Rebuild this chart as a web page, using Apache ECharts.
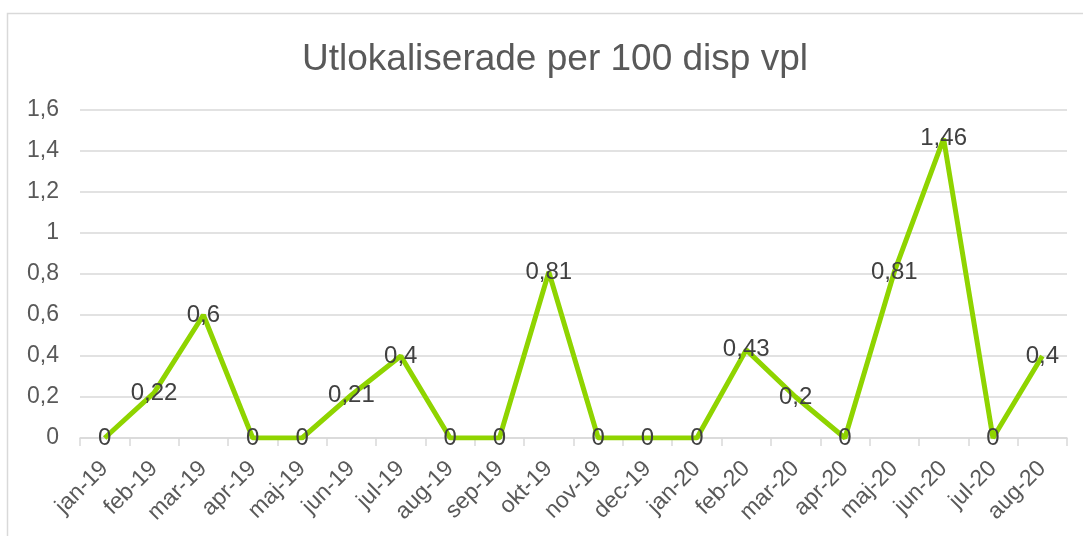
<!DOCTYPE html>
<html lang="sv">
<head>
    <meta charset="UTF-8">
    <title>Utlokaliserade per 100 disp vpl</title>
    <style>
        html, body { margin: 0; padding: 0; background: #fff; }
    </style>
</head>
<body>
<div id="container" style="width: 1083px;height:536px;"></div>

<script src="https://cdn.jsdelivr.net/npm/echarts@6/dist/echarts.min.js"></script>
<script type="text/javascript">

// kategorier (månader)
var months = ['jan-19', 'feb-19', 'mar-19', 'apr-19', 'maj-19', 'jun-19', 'jul-19', 'aug-19', 'sep-19', 'okt-19',
              'nov-19', 'dec-19', 'jan-20', 'feb-20', 'mar-20', 'apr-20', 'maj-20', 'jun-20', 'jul-20', 'aug-20'];
// värden
var values = [0, 0.22, 0.6, 0, 0, 0.21, 0.4, 0, 0, 0.81,
              0, 0, 0, 0.43, 0.2, 0, 0.81, 1.46, 0, 0.4];

function comma(v) {
    return String(v).replace('.', ',');
}

var dom = document.getElementById("container");
var myChart = echarts.init(dom);
var option = {
    animation: false,
    textStyle: { fontFamily: 'Liberation Sans, Arial, sans-serif' },
    title: {
        text: 'Utlokaliserade per 100 disp vpl',
        left: 297,
        top: 36,
        textStyle: { fontSize: 37, fontWeight: 'normal', color: '#595959' }
    },
    graphic: [{
        type: 'rect',
        shape: { x: 7.5, y: 13.5, width: 1080, height: 540 },
        style: { fill: 'none', stroke: '#d9d9d9', lineWidth: 1.5 },
        silent: true
    }],
    grid: {
        left: 80,
        right: 16,
        top: 110,
        bottom: 98
    },
    xAxis: {
        type: 'category',
        data: months,
        boundaryGap: true,
        axisLine: { lineStyle: { color: '#d9d9d9', width: 1.5 } },
        axisTick: { show: true, length: 8, lineStyle: { color: '#d9d9d9', width: 1.5 } },
        axisLabel: {
            rotate: 45,
            interval: 0,
            fontSize: 23,
            color: '#595959',
            margin: 27
        }
    },
    yAxis: {
        type: 'value',
        min: 0,
        max: 1.6,
        interval: 0.2,
        axisLine: { show: false },
        axisTick: { show: false },
        splitLine: { lineStyle: { color: '#d9d9d9', width: 1.5 } },
        axisLabel: {
            fontSize: 23,
            color: '#595959',
            margin: 21,
            formatter: function (v) { return comma(Math.round(v * 10) / 10); }
        }
    },
    series: [{
        type: 'line',
        data: values,
        symbol: 'circle',
        symbolSize: 0,
        showSymbol: true,
        lineStyle: { color: '#8fd400', width: 5 },
        itemStyle: { color: '#8fd400' },
        label: {
            show: true,
            position: 'inside',
            fontSize: 24,
            color: '#404040',
            formatter: function (p) { return comma(p.value); }
        }
    }]
};

myChart.setOption(option);

</script>
</body>
</html>
